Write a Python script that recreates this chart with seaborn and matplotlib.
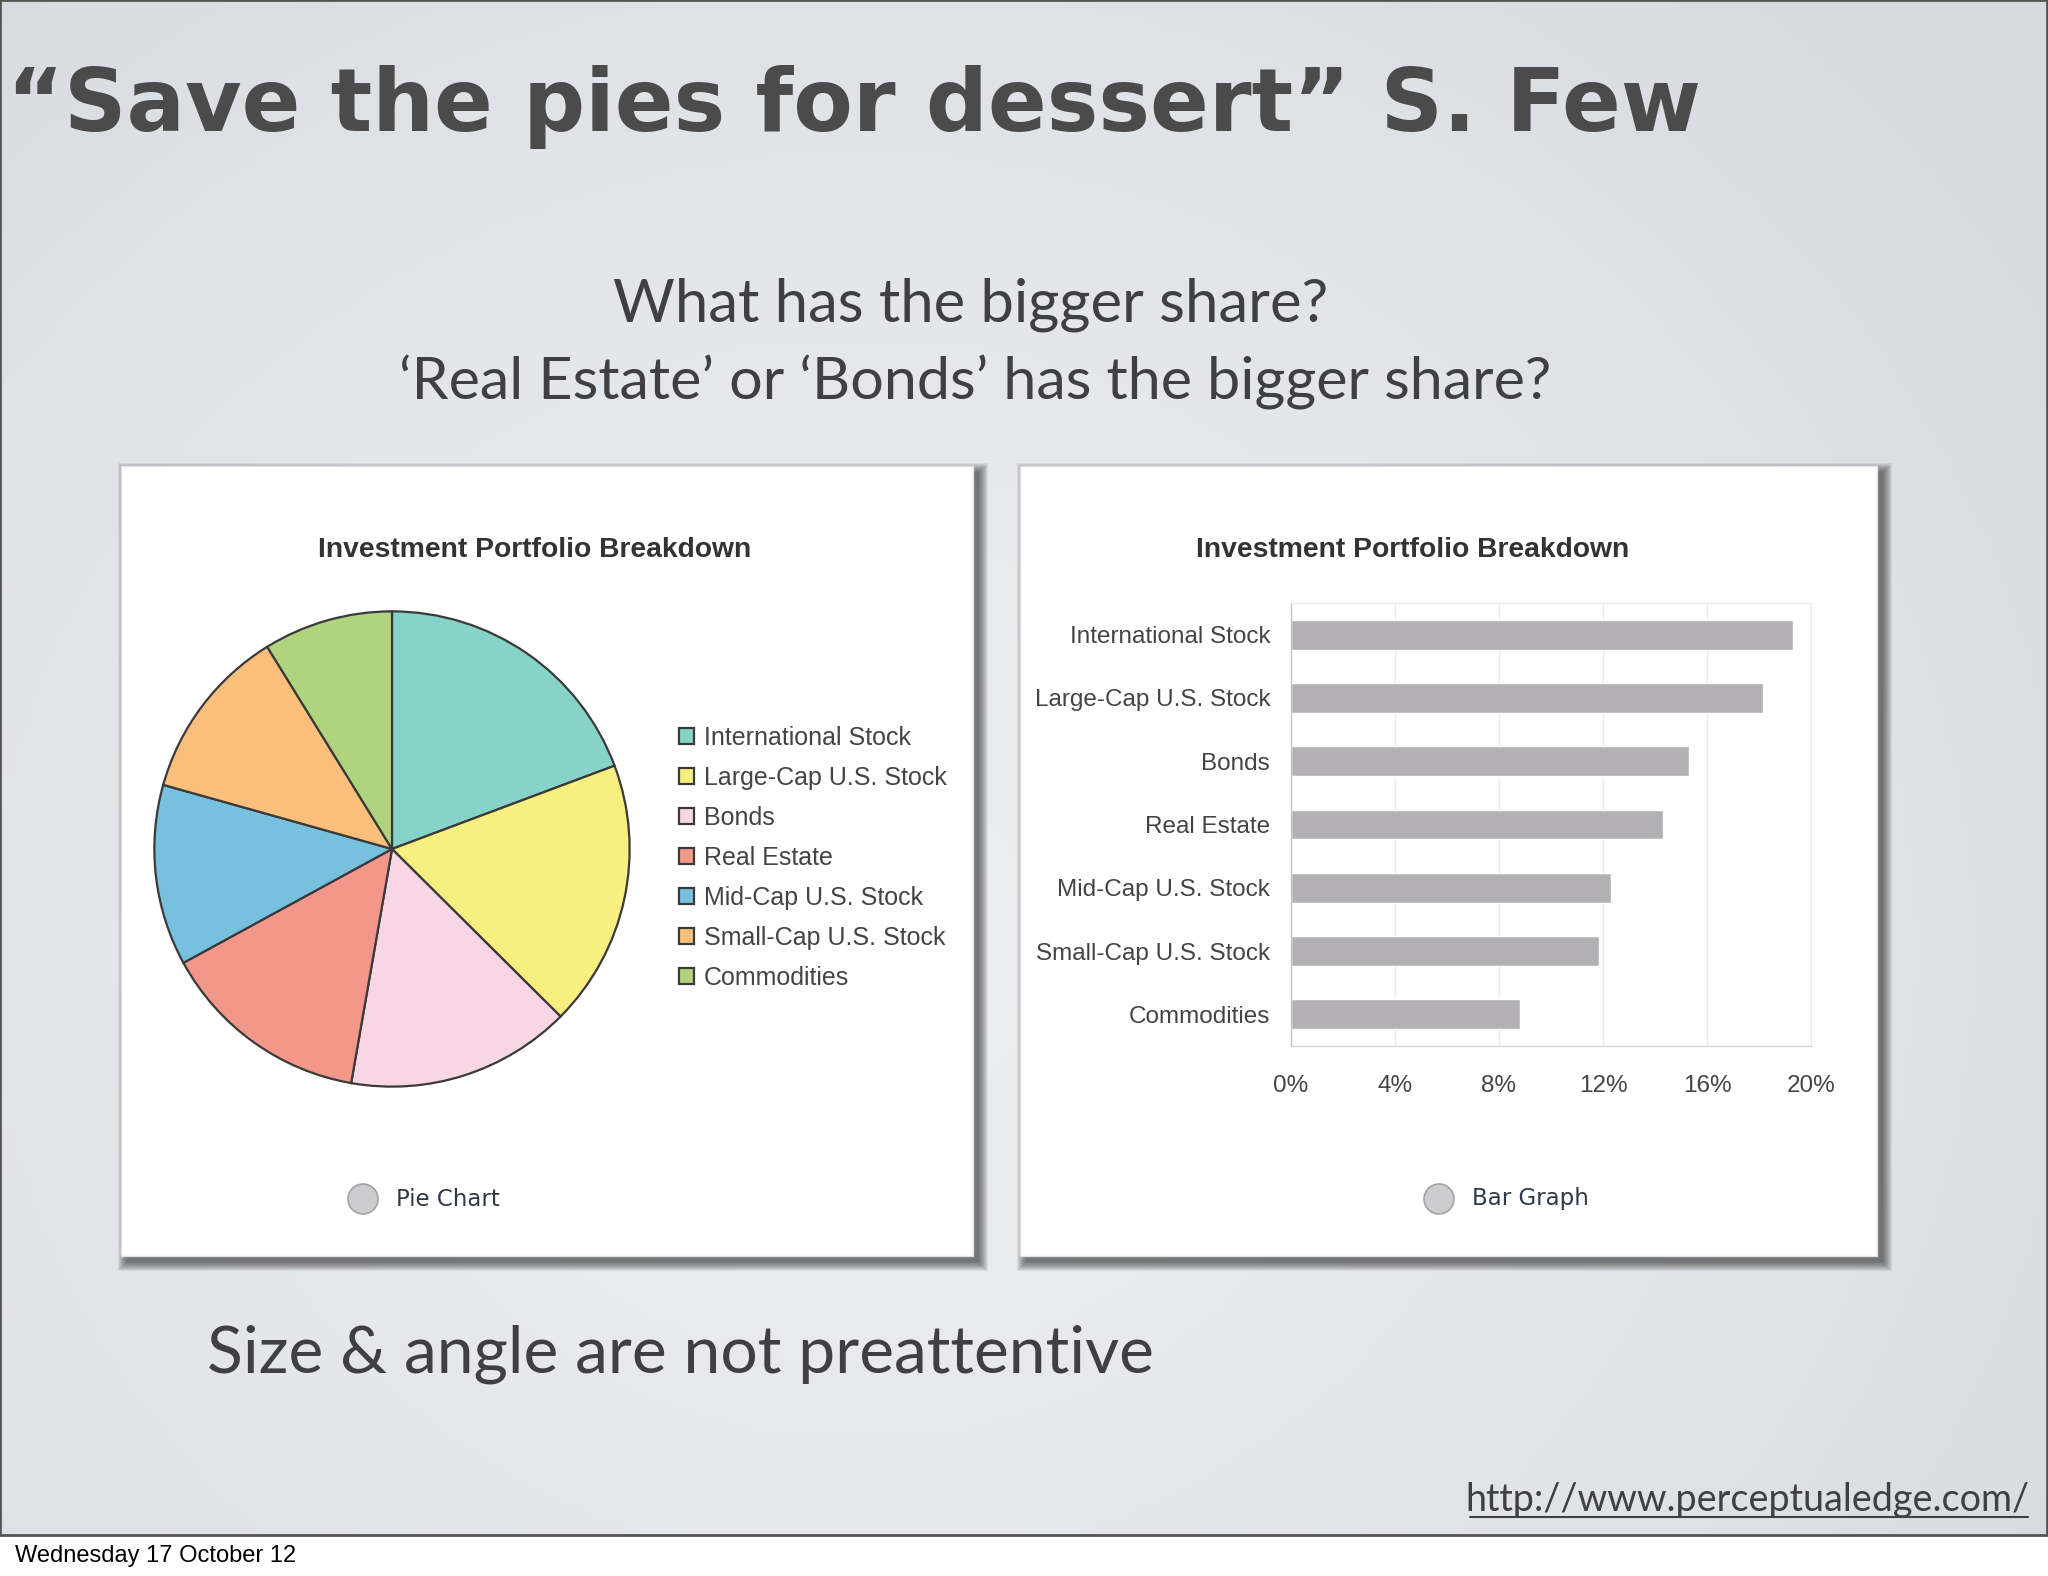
import numpy as np
import matplotlib
matplotlib.use("Agg")
import matplotlib.pyplot as plt
from matplotlib.patches import Rectangle, Circle
from matplotlib.lines import Line2D
import seaborn as sns

W, H = 2048, 1576

# data (percent of portfolio)
assets = ["International Stock", "Large-Cap U.S. Stock", "Bonds", "Real Estate",
          "Mid-Cap U.S. Stock", "Small-Cap U.S. Stock", "Commodities"]
shares = [19.3, 18.15, 15.3, 14.3, 12.3, 11.85, 8.8]
pie_colors = ["#85d3c9", "#f7ef7f", "#f8d6e4", "#f4978b", "#77c1de", "#f9bf7b", "#b0d37f"]
x_ticks = [0, 4, 8, 12, 16, 20]
x_tick_labels = ["0%", "4%", "8%", "12%", "16%", "20%"]

sns.set_theme(style="white")
plt.rcParams["font.family"] = ["Liberation Sans", "DejaVu Sans"]
SLIDE_FONT = ["Lato", "DejaVu Sans"]

fig = plt.figure(figsize=(W / 100, H / 100), dpi=100)
fig.patch.set_facecolor("white")


def box(x, y, w, h):
    # pixel box measured from the top-left corner -> figure fractions
    return [x / W, 1 - (y + h) / H, w / W, h / H]


def fx(x):
    return x / W


def fy(y):
    return 1 - y / H


# slide background (soft grey gradient)
ax_bg = fig.add_axes(box(0, 0, W, 1535), zorder=-10)
yy, xx = np.mgrid[0:1:300j, 0:1:400j]
d = np.clip(np.hypot((xx - 0.42) * 1.1, (yy - 0.62) * 0.9) / 0.75, 0, 1)
inner = np.array([0.930, 0.935, 0.945])
outer = np.array([0.845, 0.860, 0.885])
img = inner + (outer - inner) * d[..., None] ** 1.3
ax_bg.imshow(img, extent=[0, 1, 0, 1], aspect="auto", origin="upper")
ax_bg.set_xlim(0, 1)
ax_bg.set_ylim(0, 1)
ax_bg.axis("off")
fig.add_artist(Rectangle((0, fy(1535)), 1 - 1 / W, 1535 / H, transform=fig.transFigure,
                         fill=False, edgecolor="#555555", lw=2, zorder=-9))

# white panels with a drop shadow
for (px, py, pw, ph) in [(121, 466, 852, 790), (1020, 466, 857, 790)]:
    for k in range(10):
        fig.add_artist(Rectangle((fx(px + 6 - k), fy(py + ph + 6 + k)), (pw + 2 * k) / W,
                                 (ph + 2 * k) / H, transform=fig.transFigure,
                                 facecolor="#202020", edgecolor="none", alpha=0.08, zorder=-6))
    fig.add_artist(Rectangle((fx(px), fy(py + ph)), pw / W, ph / H, transform=fig.transFigure,
                             facecolor="white", edgecolor="#e2e2e2", lw=1, zorder=-5))

# pie chart
ax_pie = fig.add_axes(box(152, 609, 480, 480))
wedges, _ = ax_pie.pie(shares, colors=pie_colors, startangle=90, counterclock=False,
                       wedgeprops=dict(edgecolor="#3a3a3a", linewidth=1.6))
for w in wedges:
    w.set_clip_on(False)
ax_pie.set_xlim(-1.01, 1.01)
ax_pie.set_ylim(-1.01, 1.01)
ax_pie.patch.set_alpha(0)

fig.legend(wedges, assets, loc="upper left", bbox_to_anchor=(fx(679), fy(726)),
           frameon=False, fontsize=18, handlelength=0.6, handleheight=0.6,
           handletextpad=0.4, labelspacing=0.64, borderpad=0, borderaxespad=0,
           labelcolor="#444444")

# bar graph
ax_bar = fig.add_axes(box(1291, 603, 520, 443))
ax_bar.patch.set_alpha(0)
sns.barplot(x=shares, y=assets, orient="h", color="#b3b1b4", saturation=1,
            width=0.47, ax=ax_bar)
ax_bar.set_xlim(0, 20)
ax_bar.set_ylim(6.5, -0.5)
ax_bar.set_xticks(x_ticks, x_tick_labels)
ax_bar.xaxis.grid(True, color="#ebebf0", lw=1)
ax_bar.set_axisbelow(True)
ax_bar.set_xlabel("")
ax_bar.set_ylabel("")
for side, col in [("left", "#c4c4c4"), ("bottom", "#d4d4d4"), ("top", "#eeeeee"), ("right", "#eeeeee")]:
    ax_bar.spines[side].set_visible(True)
    ax_bar.spines[side].set_color(col)
    ax_bar.spines[side].set_linewidth(1)
ax_bar.tick_params(axis="both", length=0, labelsize=17.5, labelcolor="#444444")
ax_bar.tick_params(axis="y", pad=15)
ax_bar.tick_params(axis="x", pad=21)

# panel titles
for cx in [535, 1413]:
    fig.text(fx(cx), fy(550), "Investment Portfolio Breakdown", ha="center", va="center",
             fontsize=20.3, fontweight="bold", color="#333333")

# radio buttons under each panel
for cx, label in [(363, "Pie Chart"), (1439, "Bar Graph")]:
    fig.add_artist(Circle((cx / 100, (H - 1199) / 100), 0.15, transform=fig.dpi_scale_trans,
                          facecolor="#cdcdd0", edgecolor="#a3a3a6", lw=1.2))
    fig.text(fx(cx + 33), fy(1199), label, ha="left", va="center", fontsize=16.5,
             family="DejaVu Sans", color="#2f3a48")

# slide text
fig.text(fx(7), fy(131), "\u201cSave the pies for dessert\u201d S. Few", ha="left",
         va="baseline", fontsize=62.5, fontweight="bold", family="DejaVu Sans", color="#4b4b4b")
fig.text(fx(971), fy(322), "What has the bigger share?", ha="center", va="baseline",
         fontsize=43, family=SLIDE_FONT, color="#404042")
fig.text(fx(975), fy(399), "\u2018Real Estate\u2019 or \u2018Bonds\u2019 has the bigger share?",
         ha="center", va="baseline", fontsize=42.7, family=SLIDE_FONT, color="#404042")
fig.text(fx(207), fy(1372), "Size & angle are not preattentive", ha="left", va="baseline",
         fontsize=47.5, family=SLIDE_FONT, color="#404042")
fig.text(fx(2030), fy(1511), "http://www.perceptualedge.com/", ha="right", va="baseline",
         fontsize=27.2, family=SLIDE_FONT, color="#404042")
fig.add_artist(Line2D([fx(1470), fx(2028)], [fy(1517), fy(1517)], transform=fig.transFigure,
                      color="#404042", lw=1.5))
fig.text(fx(15), fy(1562), "Wednesday 17 October 12", ha="left", va="baseline",
         fontsize=17, color="black")

fig.savefig("out.png", dpi=100, facecolor="white")
